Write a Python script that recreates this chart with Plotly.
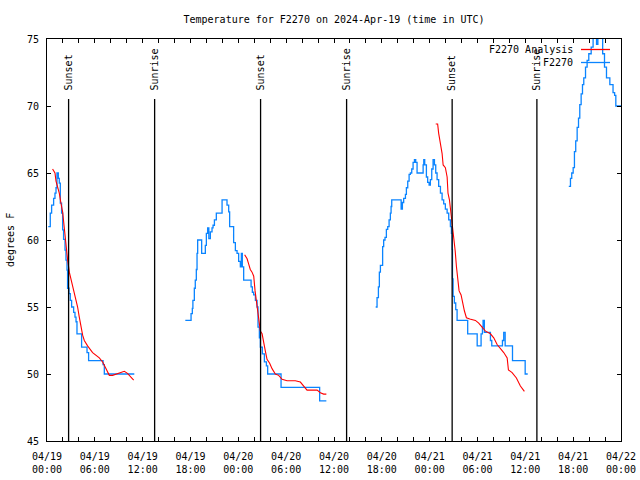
import pandas as pd
import plotly.graph_objects as go

# ---------------- data (hours after 2024-04-19 00:00 UTC, degrees F) ----------------
obs1_h = [0.16, 0.41, 0.58, 0.83, 1.00, 1.13, 1.25, 1.42, 1.54, 1.67, 1.83, 1.96, 2.08, 2.26, 2.38,
          2.51, 2.58, 2.76, 2.92, 3.09, 3.34, 3.51, 3.64, 3.76, 4.18, 4.34, 4.84, 5.02, 5.22, 6.85,
          7.03, 7.19, 10.95]
obs1_t = [61.0, 62.0, 62.6, 63.1, 63.5, 63.9, 65.0, 64.6, 64.25, 62.75, 62.0, 60.75, 60.05, 59.25, 58.5,
          57.75, 56.4, 56.0, 55.5, 55.0, 54.6, 54.25, 53.9, 53.0, 53.0, 52.0, 52.0, 51.6, 51.0, 51.0,
          50.7, 50.0, 50.0]

obs2_h = [17.35, 17.9, 18.07, 18.23, 18.3, 18.48, 18.6, 18.73, 18.82, 18.9, 19.32, 19.4, 19.78, 19.86,
          19.99, 20.15, 20.3, 20.49, 20.7, 20.83, 21.0, 21.24, 21.83, 21.96, 22.41, 22.58, 22.79, 22.91,
          23.34, 23.41, 23.63, 23.84, 24.04, 24.25, 24.38, 24.5, 24.67, 25.42, 25.6, 25.76, 25.92, 26.14,
          26.35, 26.47, 26.64, 26.76, 27.01, 27.27, 27.52, 27.68, 29.18, 29.36, 33.95, 34.2, 35.04]
obs2_t = [54.0, 54.0, 54.5, 54.9, 55.5, 56.4, 57.0, 57.8, 59.0, 60.0, 60.0, 59.0, 59.0, 59.6,
          60.5, 60.9, 60.1, 60.6, 60.9, 61.1, 61.5, 62.0, 62.0, 63.0, 63.0, 62.6, 62.1, 61.0,
          61.0, 59.8, 59.2, 59.0, 58.4, 58.0, 59.0, 58.0, 57.0, 57.0, 56.5, 56.1, 55.9, 55.5,
          55.0, 53.5, 52.7, 52.0, 51.5, 50.9, 50.6, 50.0, 50.0, 49.0, 49.0, 48.0, 48.0]

obs3_h = [41.23, 41.4, 41.57, 41.69, 41.82, 41.98, 42.1, 42.23, 42.4, 42.57, 42.74, 42.91, 43.07, 43.16,
          43.24, 44.24, 44.42, 44.58, 44.74, 44.96, 45.08, 45.25, 45.42, 45.58, 45.75, 45.92, 46.09, 46.25,
          46.42, 46.93, 47.18, 47.26, 47.38, 47.59, 47.75, 47.93, 48.09, 48.26, 48.43, 48.6, 48.76, 48.93,
          49.13, 49.35, 49.56, 49.76, 49.97, 50.19, 50.39, 50.6, 50.73, 50.82, 50.86, 50.94, 51.1, 51.27,
          51.44, 52.58, 52.77, 53.78, 53.96, 54.28, 54.45, 54.62, 54.7, 54.86, 55.4, 55.62, 55.79, 56.96,
          57.13, 57.29, 57.47, 58.3, 58.39, 59.8, 59.98, 60.3]
obs3_t = [55.0, 55.7, 56.5, 57.6, 58.1, 58.1, 59.5, 60.0, 60.2, 60.8, 61.0, 61.5, 62.0, 62.5,
          63.0, 63.0, 62.3, 62.8, 63.1, 63.4, 63.9, 64.4, 64.9, 65.0, 65.3, 65.8, 66.0, 65.8,
          65.0, 65.0, 65.6, 66.0, 65.6, 64.7, 64.3, 64.1, 64.5, 65.3, 66.0, 65.6, 65.0, 64.5,
          64.0, 63.5, 63.0, 62.7, 62.3, 62.0, 61.5, 61.0, 60.5, 59.3, 57.1, 55.8, 55.3, 54.8,
          54.0, 54.0, 53.0, 53.0, 52.1, 52.1, 53.0, 53.5, 54.0, 53.1, 53.1, 52.5, 52.1, 52.1,
          52.5, 53.1, 52.1, 52.1, 51.0, 51.0, 50.0, 50.0]

obs4_h = [65.45, 65.66, 65.82, 66.0, 66.16, 66.32, 66.5, 66.67, 66.83, 67.0, 67.17, 67.33, 67.55, 67.75,
          67.96, 68.26, 68.5, 68.77, 68.93, 69.1, 69.5, 69.7, 69.93, 70.18, 70.48, 70.6, 70.9, 71.0,
          71.2, 71.35, 72.0]
obs4_t = [64.0, 64.6, 65.0, 65.4, 66.6, 67.4, 68.4, 69.1, 70.1, 70.9, 71.6, 72.1, 72.9, 73.4,
          73.9, 74.4, 75.8, 75.8, 74.6, 75.8, 75.8, 73.9, 72.9, 72.1, 72.1, 71.6, 71.6, 71.0,
          70.8, 70.0, 70.0]

ana1_h = [0.70, 1.0, 1.13, 1.33, 1.54, 1.75, 1.96, 2.17, 2.38, 2.59, 2.80, 3.01, 3.21, 3.43, 3.64, 3.84,
          4.05, 4.27, 4.47, 4.68, 5.09, 5.72, 6.56, 6.98, 7.40, 7.82, 8.23, 9.07, 9.70, 10.1, 10.54, 10.87]
ana1_t = [65.3, 65.0, 64.4, 64.0, 63.5, 62.75, 62.1, 60.9, 59.4, 58.5, 57.6, 57.1, 56.6, 56.0, 55.4, 55.0,
          54.25, 53.5, 52.9, 52.5, 52.1, 51.6, 51.2, 50.9, 50.4, 49.9, 49.9, 50.1, 50.2, 50.05, 49.75, 49.55]

ana2_h = [24.79, 25.1, 25.3, 25.5, 25.72, 25.93, 26.1, 26.26, 26.42, 26.6, 26.76, 26.98, 27.18, 27.39,
          27.6, 27.93, 28.23, 28.64, 29.06, 29.49, 30.11, 31.15, 31.78, 32.2, 32.62, 33.88, 34.29, 34.7, 35.04]
ana2_t = [58.9, 58.6, 58.2, 57.8, 57.6, 57.3, 56.2, 55.5, 54.7, 53.7, 53.2, 53.0, 52.2, 51.7,
          51.1, 50.8, 50.4, 50.0, 49.9, 49.6, 49.5, 49.5, 49.4, 49.1, 48.8, 48.8, 48.6, 48.5, 48.5]

ana3_h = [48.76, 49.0, 49.13, 49.35, 49.56, 49.69, 49.97, 50.19, 50.3, 50.48, 50.64, 50.82, 51.02, 51.2,
          51.36, 51.52, 51.69, 51.94, 52.1, 52.36, 52.61, 53.03, 53.74, 54.15, 54.58, 55.0, 55.62, 56.04,
          56.46, 56.88, 57.29, 57.72, 57.88, 58.34, 58.88, 59.38, 59.88]
ana3_t = [68.66, 68.66, 67.96, 67.2, 66.45, 65.6, 65.4, 64.7, 63.5, 63.0, 62.2, 61.2, 60.0, 59.2,
          58.0, 57.0, 56.2, 55.9, 55.4, 54.7, 54.2, 54.1, 54.0, 53.8, 53.5, 53.2, 53.0, 52.7,
          52.2, 51.9, 51.6, 51.2, 50.3, 50.1, 49.7, 49.1, 48.7]

sun_hours = [2.71, 13.50, 26.79, 37.58, 50.82, 61.45]
sun_labels = ["Sunset", "Sunrise", "Sunset", "Sunrise", "Sunset", "Sunrise"]

tick_hours = list(range(0, 73, 2))
label_every = 6

obs_name = "F2270"
ana_name = "F2270 Analysis"
title_text = "Temperature for F2270 on 2024-Apr-19 (time in UTC)"
y_title = "degrees F"

# ---------------- build ----------------
t0 = pd.Timestamp("2024-04-19 00:00")


def to_time(hours):
    return [t0 + pd.Timedelta(hours=h) for h in hours]


FONT = "DejaVu Sans Mono"
BLUE = "#0a84ff"
RED = "#ff0000"

fig = go.Figure()
for hh, tt in [(obs1_h, obs1_t), (obs2_h, obs2_t), (obs3_h, obs3_t), (obs4_h, obs4_t)]:
    fig.add_trace(go.Scatter(x=to_time(hh), y=tt, mode="lines", name=obs_name,
                             line=dict(color=BLUE, width=1.3, shape="hv"), showlegend=False))
for hh, tt in [(ana1_h, ana1_t), (ana2_h, ana2_t), (ana3_h, ana3_t)]:
    fig.add_trace(go.Scatter(x=to_time(hh), y=tt, mode="lines", name=ana_name,
                             line=dict(color=RED, width=1.1), showlegend=False))

line_top = 70.53
for h, lab in zip(sun_hours, sun_labels):
    t = t0 + pd.Timedelta(hours=h)
    fig.add_shape(type="line", x0=t, x1=t, y0=45, y1=line_top, xref="x", yref="y",
                  line=dict(color="black", width=1.3))
    fig.add_annotation(x=t, y=70.98, xref="x", yref="y", text=lab, textangle=-90,
                       showarrow=False, xanchor="center", yanchor="bottom",
                       font=dict(family=FONT, size=10, color="black"))

tickvals = to_time(tick_hours)
ticktext = [(t0 + pd.Timedelta(hours=h)).strftime("%m/%d<br>%H:%M") if h % label_every == 0 else ""
            for h in tick_hours]

# manual gnuplot-style legend (text then sample)
L, R, T, B = 47, 19, 39, 39
W = 640 - L - R
H = 480 - T - B


def px(xp):
    return (xp - L) / W


def py(yp):
    return (480 - B - yp) / H


for name, col, ypix in [(ana_name, RED, 49.5), (obs_name, BLUE, 62.5)]:
    fig.add_annotation(x=px(575), y=py(ypix), xref="paper", yref="paper", text=name,
                       showarrow=False, xanchor="right", yanchor="middle",
                       font=dict(family=FONT, size=10, color="black"))
    fig.add_shape(type="line", x0=px(581), x1=px(610), y0=py(ypix), y1=py(ypix),
                  xref="paper", yref="paper", line=dict(color=col, width=1.3))

fig.add_annotation(x=px(10), y=0.5, xref="paper", yref="paper", text=y_title, textangle=-90,
                   showarrow=False, xanchor="center", yanchor="middle",
                   font=dict(family=FONT, size=10, color="black"))

fig.update_layout(
    width=640, height=480,
    margin=dict(l=L, r=R, t=T, b=B, pad=0, autoexpand=False),
    paper_bgcolor="white", plot_bgcolor="white",
    font=dict(family=FONT, size=10, color="black"),
    title=dict(text=title_text, x=px(334), xref="paper", xanchor="center",
               y=1 - 19 / 480, yref="container", yanchor="middle",
               font=dict(family=FONT, size=10, color="black")),
    showlegend=False,
)
fig.update_xaxes(range=[t0, t0 + pd.Timedelta(hours=72)], tickmode="array",
                 tickvals=tickvals, ticktext=ticktext, ticks="inside", ticklen=4,
                 tickcolor="black", showline=True, linecolor="black", linewidth=1,
                 mirror="ticks", showgrid=False, zeroline=False, ticklabelstandoff=6,
                 automargin=False, tickfont=dict(family=FONT, size=10))
fig.update_yaxes(range=[45, 75], tickmode="array", tickvals=[45, 50, 55, 60, 65, 70, 75],
                 ticks="inside", ticklen=4, tickcolor="black", showline=True, linecolor="black",
                 linewidth=1, mirror="ticks", showgrid=False, zeroline=False,
                 ticklabelstandoff=5, automargin=False, tickfont=dict(family=FONT, size=10))

fig.write_html("out.html", config={"displayModeBar": False},
               post_script="document.body.style.margin='0';")
